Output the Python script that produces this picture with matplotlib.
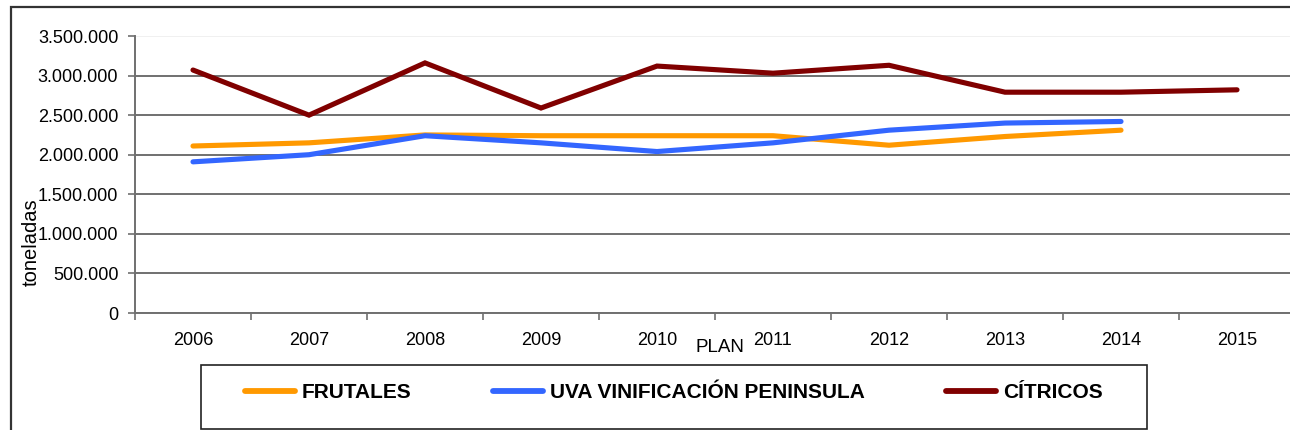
import numpy as np
import matplotlib
matplotlib.use("Agg")
import matplotlib.pyplot as plt
from matplotlib.patches import Rectangle
from matplotlib.ticker import FuncFormatter

plt.rcParams["font.family"] = ["Liberation Sans", "DejaVu Sans"]

W, H = 1290, 430

# datos (toneladas por plan)
planes = ["2006", "2007", "2008", "2009", "2010", "2011", "2012", "2013", "2014", "2015"]
frutales = [2110000, 2150000, 2250000, 2240000, 2240000, 2240000, 2120000, 2230000, 2310000]
uva = [1910000, 2000000, 2240000, 2150000, 2040000, 2150000, 2310000, 2400000, 2420000]
citricos = [3070000, 2500000, 3160000, 2590000, 3120000, 3030000, 3130000, 2790000, 2790000, 2820000]

series = [
    ("FRUTALES", frutales, "#FF9900"),
    ("UVA VINIFICACIÓN PENINSULA", uva, "#3366FF"),
    ("CÍTRICOS", citricos, "#800000"),
]

fig = plt.figure(figsize=(W / 100, H / 100), dpi=100)

def px(x0, y0, x1, y1):
    # caja en pixeles (arriba-izquierda) -> fraccion de figura
    return [x0 / W, 1 - y1 / H, (x1 - x0) / W, (y1 - y0) / H]

ax = fig.add_axes(px(135, 36, 1295, 313))

x = np.arange(len(planes))
for nombre, vals, color in series:
    ax.plot(x[:len(vals)], vals, color=color, lw=3.7, label=nombre,
            solid_capstyle="round", solid_joinstyle="miter")

ax.set_xlim(-0.5, len(planes) - 0.5)
ax.set_ylim(0, 3500000)
yt = np.arange(0, 3500001, 500000)
ax.set_yticks(yt)
ax.yaxis.set_major_formatter(FuncFormatter(lambda v, p: f"{int(v):,}".replace(",", ".")))
for v in yt:
    c = "#F0F0F0" if v == 3500000 else "#707070"
    ax.axhline(v, color=c, lw=1.4, zorder=0)

ax.set_xticks(x)
ax.set_xticklabels(planes)
ax.set_xticks(np.arange(-0.5, len(planes)), minor=True)
ax.tick_params(axis="x", which="major", length=0, pad=14, labelsize=13)
ax.tick_params(axis="x", which="minor", length=5, width=1.2, color="#707070", direction="out")
ax.tick_params(axis="y", length=5, width=1.2, color="#707070", pad=7, labelsize=13)

for s in ["top", "right"]:
    ax.spines[s].set_visible(False)
for s in ["left", "bottom"]:
    ax.spines[s].set_color("#707070")
    ax.spines[s].set_linewidth(1.4)

ax.set_xlabel("PLAN", fontsize=13.5)
ax.xaxis.set_label_coords((720 - 135) / 1160, (313 - 347) / 277)
ax.xaxis.label.set_va("center")
fig.text(31 / W, 1 - 242 / H, "toneladas", rotation=90, fontsize=14.5,
         ha="center", va="center")

# marco exterior
fig.add_artist(Rectangle((11 / W, -0.1), 1.2, 1 - 7 / H + 0.1, transform=fig.transFigure,
                         fill=False, ec="#333333", lw=1.6, clip_on=False))

# leyenda
fig.add_artist(Rectangle((201 / W, 1 - 429 / H), (1147 - 201) / W, (429 - 365) / H,
                         transform=fig.transFigure, fill=False, ec="#222222", lw=1.2))
leg = fig.legend(loc="center", bbox_to_anchor=(674 / W, 1 - 393 / H), ncol=3, frameon=False,
                 prop={"weight": "bold", "size": 15}, handlelength=2.4, handletextpad=0.34,
                 columnspacing=3.9, borderaxespad=0)
for h in leg.get_lines():
    h.set_linewidth(4.2)

fig.savefig("out.png", dpi=100)
